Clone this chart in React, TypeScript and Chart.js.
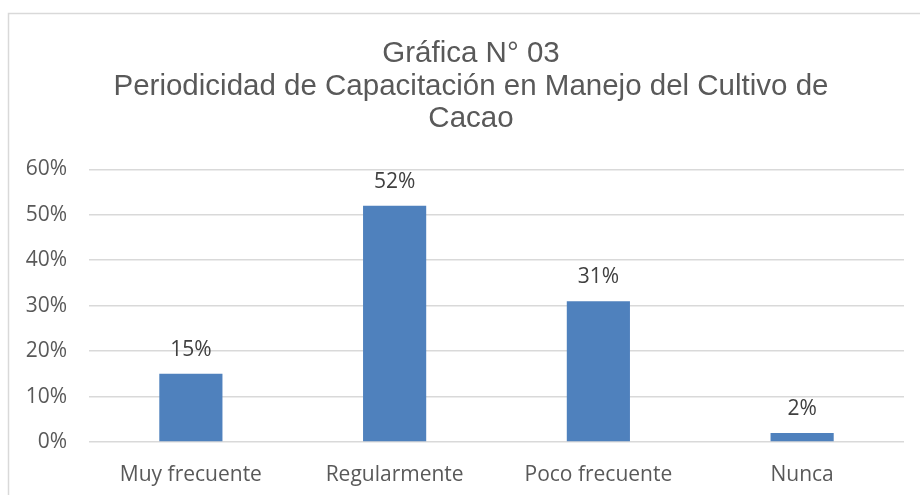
import React, { useEffect, useRef } from "react";
import { Chart, registerables } from "chart.js";

Chart.register(...registerables);

const categories: string[] = ["Muy frecuente", "Regularmente", "Poco frecuente", "Nunca"];
const values: number[] = [15, 52, 31, 2];
const titleLines: string[] = [
  "Gráfica N° 03",
  "Periodicidad de Capacitación en Manejo del Cultivo de",
  "Cacao",
];
const yMax = 60;
const yStep = 10;

const TITLE_SIZE = 29.5;
const TITLE_LH = 1.1;
const TITLE_PAD_TOP = 38;
const TITLE_CENTER_X = 471;

const framePlugin = {
  id: "frame",
  beforeDraw(chart: any) {
    const ctx = chart.ctx;
    ctx.save();
    ctx.fillStyle = "#ffffff";
    ctx.fillRect(0, 0, chart.width, chart.height);
    ctx.strokeStyle = "#d9d9d9";
    ctx.lineWidth = 1.5;
    ctx.strokeRect(8.5, 13.5, chart.width + 50, chart.height + 50);
    ctx.restore();
  },
};

const titleDrawPlugin = {
  id: "titleDraw",
  afterDraw(chart: any) {
    const ctx = chart.ctx;
    const tb = chart.titleBlock;
    const top = (tb ? tb.top : 0) + TITLE_PAD_TOP;
    const lh = TITLE_SIZE * TITLE_LH;
    ctx.save();
    ctx.font = `${TITLE_SIZE}px "Liberation Sans", Arial`;
    ctx.fillStyle = "#595959";
    ctx.textAlign = "center";
    ctx.textBaseline = "middle";
    titleLines.forEach((line, i) => {
      ctx.fillText(line, TITLE_CENTER_X, top + lh * (i + 0.5));
    });
    ctx.restore();
  },
};

const labelPlugin = {
  id: "barLabels",
  afterDatasetsDraw(chart: any) {
    const ctx = chart.ctx;
    const meta = chart.getDatasetMeta(0);
    ctx.save();
    ctx.font = '21px "Open Sans"';
    ctx.fillStyle = "#404040";
    ctx.textAlign = "center";
    ctx.textBaseline = "alphabetic";
    meta.data.forEach((bar: any, i: number) => {
      ctx.fillText(values[i] + "%", bar.x, bar.y - 18);
    });
    ctx.restore();
  },
};

export default function App() {
  const ref = useRef<HTMLCanvasElement>(null);
  useEffect(() => {
    if (!ref.current) return;
    const chart = new Chart(ref.current, {
      type: "bar",
      data: {
        labels: categories,
        datasets: [
          {
            data: values,
            backgroundColor: "#4f81bd",
            categoryPercentage: 1,
            barPercentage: 0.31,
          },
        ],
      },
      options: {
        animation: false,
        responsive: false,
        layout: { padding: { left: 0, right: 16, top: 0, bottom: 0 } },
        plugins: {
          legend: { display: false },
          tooltip: { enabled: false },
          title: {
            display: true,
            text: titleLines,
            color: "rgba(0,0,0,0)",
            font: { family: '"Liberation Sans", Arial', size: TITLE_SIZE, weight: "normal", lineHeight: TITLE_LH },
            padding: { top: TITLE_PAD_TOP, bottom: 34 },
          },
        },
        scales: {
          x: {
            grid: { display: false },
            border: { display: false },
            ticks: {
              color: "#595959",
              font: { family: '"Open Sans"', size: 21 },
              padding: 12,
            },
            afterFit(scale: any) {
              scale.height = 53;
            },
          },
          y: {
            min: 0,
            max: yMax,
            grid: { color: "#d9d9d9", lineWidth: 1.5, drawTicks: false },
            border: { display: false },
            ticks: {
              stepSize: yStep,
              color: "#595959",
              font: { family: '"Open Sans"', size: 21 },
              padding: 22,
              callback: (v: any) => v + "%",
            },
            afterFit(scale: any) {
              scale.width = 89;
            },
          },
        },
      },
      plugins: [framePlugin, titleDrawPlugin, labelPlugin],
    });
    return () => chart.destroy();
  }, []);
  return (
    <div style={{ position: "fixed", left: 0, top: 0, width: 920, height: 495 }}>
      <canvas ref={ref} width={920} height={495} />
    </div>
  );
}
